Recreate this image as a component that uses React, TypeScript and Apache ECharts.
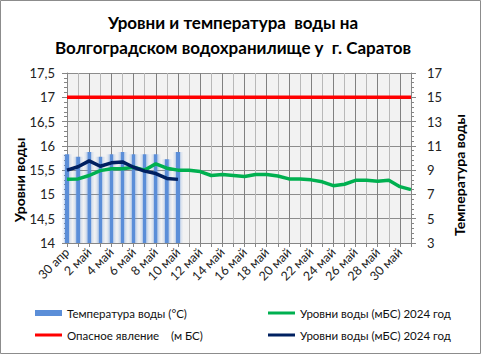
import React, { useEffect, useRef } from 'react';
import * as echarts from 'echarts';

const categories = [
  '30 апр', '1 май', '2 май', '3 май', '4 май', '5 май', '6 май', '7 май', '8 май', '9 май', '10 май',
  '11 май', '12 май', '13 май', '14 май', '15 май', '16 май', '17 май', '18 май', '19 май', '20 май',
  '21 май', '22 май', '23 май', '24 май', '25 май', '26 май', '27 май', '28 май', '29 май', '30 май', '31 май',
];

const waterTemp = [10.3, 10.1, 10.5, 10.1, 10.3, 10.5, 10.3, 10.3, 10.3, 9.9, 10.5];

const levelGreen = [
  15.31, 15.32, 15.39, 15.49, 15.53, 15.53, 15.56, 15.5, 15.63, 15.54, 15.5,
  15.5, 15.47, 15.39, 15.41, 15.39, 15.37, 15.41, 15.41, 15.38, 15.32,
  15.32, 15.3, 15.26, 15.18, 15.21, 15.29, 15.29, 15.27, 15.29, 15.16, 15.1,
];

const levelNavy = [15.5, 15.57, 15.69, 15.58, 15.65, 15.67, 15.56, 15.48, 15.43, 15.33, 15.31];

const dangerLevel = [
  17, 17, 17, 17, 17, 17, 17, 17, 17, 17, 17, 17, 17, 17, 17, 17,
  17, 17, 17, 17, 17, 17, 17, 17, 17, 17, 17, 17, 17, 17, 17, 17,
];

const titleLines = ['Уровни и температура  воды на', 'Волгоградском водохранилище у  г. Саратов'];
const leftAxisName = 'Уровни воды';
const rightAxisName = 'Температура воды';
const nameTemp = 'Температура воды (°С)';
const nameGreen = 'Уровни воды (мБС) 2024 год';
const nameDanger = 'Опасное явление    (м БС)';
const nameNavy = 'Уровни воды (мБС) 2024 год ';

const FONT = 'Lato, "Open Sans", sans-serif';
const AXIS_GRAY = '#868686';

export default function App() {
  const ref = useRef<HTMLDivElement>(null);

  useEffect(() => {
    if (!ref.current) return;
    const chart = echarts.init(ref.current, null, { renderer: 'svg' });
    const barGrad = new echarts.graphic.LinearGradient(0, 0, 1, 0, [
      { offset: 0, color: 'rgba(91,142,216,0)' },
      { offset: 0.2, color: 'rgba(91,142,216,0.15)' },
      { offset: 0.34, color: 'rgba(91,142,216,0.45)' },
      { offset: 0.36, color: '#5B8ED8' },
      { offset: 0.64, color: '#5B8ED8' },
      { offset: 0.66, color: 'rgba(91,142,216,0.45)' },
      { offset: 0.8, color: 'rgba(91,142,216,0.15)' },
      { offset: 1, color: 'rgba(91,142,216,0)' },
    ]);
    const legendText = { fontSize: 11.5, color: '#111', fontFamily: FONT };
    const legendBase = { padding: 0, icon: 'rect', itemWidth: 27, textStyle: legendText, selectedMode: false };
    chart.setOption({
      animation: false,
      backgroundColor: '#fff',
      textStyle: { fontFamily: FONT },
      grid: {
        left: 67, right: 70, top: 73, bottom: 111,
        show: true, backgroundColor: '#F2F2F2', borderWidth: 0,
      },
      graphic: [
        {
          type: 'rect', shape: { x: 0.5, y: 0.5, width: 480, height: 353 },
          style: { fill: 'none', stroke: '#8C8C8C', lineWidth: 1 }, silent: true,
        },
        {
          type: 'text', x: 233, y: 22,
          style: { text: titleLines[0], align: 'center', verticalAlign: 'middle', font: 'bold 17px ' + FONT, fill: '#000' },
        },
        {
          type: 'text', x: 233, y: 47,
          style: { text: titleLines[1], align: 'center', verticalAlign: 'middle', font: 'bold 17px ' + FONT, fill: '#000' },
        },
        {
          type: 'text', x: 19, y: 180, rotation: Math.PI / 2,
          style: { text: leftAxisName, align: 'center', verticalAlign: 'middle', font: 'bold 14px ' + FONT, fill: '#000' },
        },
        {
          type: 'text', x: 459, y: 175, rotation: Math.PI / 2,
          style: { text: rightAxisName, align: 'center', verticalAlign: 'middle', font: 'bold 14px ' + FONT, fill: '#000' },
        },
      ],
      legend: [
        { ...legendBase, left: 35, top: 307, itemHeight: 6, data: [{ name: nameTemp, itemStyle: { color: '#5B8ED8' } }] },
        { ...legendBase, left: 268, top: 307, itemHeight: 3, data: [{ name: nameGreen, itemStyle: { color: '#00B050', borderWidth: 0 } }] },
        { ...legendBase, left: 35, top: 329, itemHeight: 3, data: [{ name: nameDanger, itemStyle: { color: '#FF0000', borderWidth: 0 } }] },
        { ...legendBase, left: 268, top: 329, itemHeight: 3, data: [{ name: nameNavy, itemStyle: { color: '#002060', borderWidth: 0 } }] },
      ],
      xAxis: {
        type: 'category',
        data: categories,
        boundaryGap: false,
        axisLine: { show: true, lineStyle: { color: AXIS_GRAY } },
        axisTick: { show: true, interval: 0, length: 4, lineStyle: { color: AXIS_GRAY } },
        axisLabel: { interval: 1, rotate: 45, fontSize: 12.5, color: '#222', margin: 7, fontFamily: FONT },
        splitLine: { show: true, interval: 0, lineStyle: { color: ['#808080', '#B8B8B8'], width: 1 } },
      },
      yAxis: [
        {
          type: 'value', min: 14, max: 17.5, interval: 0.5, position: 'left',
          axisLine: { show: true, lineStyle: { color: AXIS_GRAY } },
          axisTick: { show: true, length: 5, lineStyle: { color: AXIS_GRAY } },
          minorTick: { show: true, splitNumber: 5, length: 3, lineStyle: { color: AXIS_GRAY } },
          axisLabel: {
            fontSize: 13, color: '#222', margin: 12, fontFamily: FONT,
            formatter: (v: number) => String(v).replace('.', ','),
          },
          splitLine: { show: true, lineStyle: { color: '#8C8C8C', width: 1 } },
        },
        {
          type: 'value', min: 3, max: 17, interval: 2, position: 'right',
          axisLine: { show: true, lineStyle: { color: AXIS_GRAY } },
          axisTick: { show: true, length: 5, lineStyle: { color: AXIS_GRAY } },
          minorTick: { show: true, splitNumber: 5, length: 3, lineStyle: { color: AXIS_GRAY } },
          axisLabel: { fontSize: 13, color: '#222', margin: 16, fontFamily: FONT },
          splitLine: { show: false },
        },
      ],
      series: [
        {
          name: nameTemp, type: 'bar', yAxisIndex: 1, data: waterTemp, barWidth: 11,
          itemStyle: { color: barGrad }, z: 1,
        },
        {
          name: nameGreen, type: 'line', yAxisIndex: 0, data: levelGreen, symbol: 'none',
          color: '#00B050', lineStyle: { color: '#00B050', width: 3.5 }, z: 3,
        },
        {
          name: nameDanger, type: 'line', yAxisIndex: 0, data: dangerLevel, symbol: 'none',
          color: '#FF0000', lineStyle: { color: '#FF0000', width: 3.5 }, z: 3,
        },
        {
          name: nameNavy, type: 'line', yAxisIndex: 0, data: levelNavy, symbol: 'none',
          color: '#002060', lineStyle: { color: '#002060', width: 3.5 }, z: 4,
        },
      ],
    });
    return () => chart.dispose();
  }, []);

  return (
    <div
      ref={ref}
      style={{ position: 'fixed', left: 0, top: 0, width: 481, height: 354, background: '#fff' }}
    />
  );
}
